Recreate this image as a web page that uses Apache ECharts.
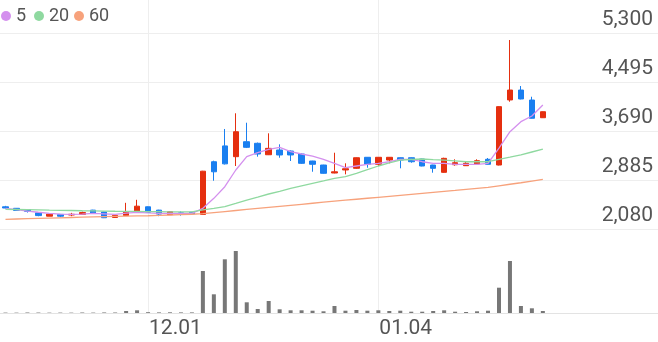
<!DOCTYPE html>
<html><head><meta charset="utf-8">
<script src="https://cdn.jsdelivr.net/npm/echarts@6/dist/echarts.min.js"></script>
<style>html,body{margin:0;padding:0;background:#fff}#c{width:658px;height:342px}</style>
</head><body><div id="c"></div>
<script>
const dates = ['11.14','11.15','11.16','11.17','11.20','11.21','11.22','11.23','11.24','11.27','11.28','11.29','11.30',
  '12.01','12.04','12.05','12.06','12.07','12.08','12.11','12.12','12.13','12.14','12.15','12.18','12.19','12.20','12.21','12.22',
  '12.26','12.27','12.28','01.02','01.03','01.04','01.05','01.08','01.09','01.10','01.11','01.12',
  '01.15','01.16','01.17','01.18','01.19','01.22','01.23','01.24','01.25'];
const futureSlots = 10;
const opens  = [2445,2420,2400,2345,2290,2320,2310,2320,2390,2360,2270,2300,2365,2445,2390,2315,2345,2355,2320,3185,3445,3268,3514,3488,3300,3378,3361,3312,3197,3131,3000,3050,3077,3258,3143,3213,3251,3251,3230,3131,3011,3136,3120,3148,3225,3131,4200,4363,4199,3908];
const closes = [2425,2385,2370,2300,2325,2290,2322,2350,2335,2265,2305,2365,2455,2355,2325,2365,2330,2330,3030,3020,3150,3678,3422,3312,3405,3296,3296,3159,3143,2995,3020,3070,3251,3143,3258,3258,3213,3185,3115,3077,3241,3169,3159,3202,3143,4090,4363,4216,3899,4007];
const lows   = [2415,2385,2350,2290,2290,2275,2290,2315,2335,2260,2265,2295,2360,2350,2290,2310,2300,2325,2315,2873,3140,3115,3410,3268,3295,3251,3197,3150,3021,2990,2995,2978,3070,3087,3115,3159,3077,3169,3110,3005,3005,3120,3115,3136,3140,3125,4171,4210,3895,3905];
const highs  = [2460,2425,2405,2355,2325,2325,2345,2365,2395,2365,2310,2510,2560,2450,2395,2370,2370,2360,3035,3202,3723,3981,3826,3500,3652,3471,3370,3323,3200,3135,3333,3159,3255,3262,3262,3262,3255,3255,3235,3135,3251,3225,3180,3225,3246,4095,5185,4429,4253,4010];
const volumes = [40000,35000,50000,45000,35000,40000,35000,50000,40000,55000,50000,200000,270000,80000,60000,70000,60000,60000,4200000,1870000,5370000,6200000,1070000,400000,1200000,370000,270000,270000,230000,170000,700000,230000,300000,230000,270000,200000,230000,130000,130000,200000,270000,130000,100000,170000,230000,2530000,5200000,700000,470000,200000];
const ma5  = [2420,2400,2375,2355,2338,2325,2321,2325,2338,2330,2321,2340,2354,2345,2338,2338,2338,2338,2420,2584,2775,3049,3268,3333,3389,3422,3350,3312,3279,3225,3159,3087,3115,3143,3159,3185,3225,3225,3185,3159,3159,3143,3143,3143,3159,3410,3678,3843,3936,4117];
const ma20 = [2403,2400,2397,2394,2390,2387,2384,2380,2378,2375,2372,2370,2368,2366,2364,2362,2360,2360,2395,2420,2446,2500,2556,2605,2655,2700,2748,2790,2831,2870,2910,2940,2995,3055,3115,3165,3213,3222,3230,3220,3213,3200,3185,3185,3185,3225,3260,3296,3345,3394];
const ma60 = [2239,2244,2249,2254,2259,2264,2269,2274,2279,2284,2288,2292,2295,2298,2304,2310,2316,2322,2333,2350,2367,2384,2401,2418,2435,2452,2469,2486,2503,2520,2537,2553,2569,2585,2601,2617,2633,2649,2665,2681,2697,2713,2730,2747,2764,2790,2815,2840,2868,2896];
const priceTicks = [2080,2885,3690,4495,5300];
const dateTickLabels = ['12.01','01.04'];

const categories = dates.concat(new Array(futureSlots).fill(''));
const candleData = opens.map((o,i)=>[o,closes[i],lows[i],highs[i]]);
const dateTickIdx = dateTickLabels.map(l=>dates.indexOf(l));
const N = categories.length;

const RED='#e52f0f', BLUE='#1a7ff0';
const FONT='Roboto';
const chart = echarts.init(document.getElementById('c'), null, {renderer:'canvas'});
const lg = (name,left)=>({left:left, top:7, padding:0, data:[name], icon:'circle', itemWidth:10, itemHeight:10,
  textStyle:{fontFamily:FONT, fontSize:18, color:'#555'}, selectedMode:false});
chart.setOption({
  animation:false,
  backgroundColor:'#fff',
  legend:[lg('5',1), lg('20',34), lg('60',74)],
  grid:[
    {left:0,right:0,top:0,bottom:29},
    {left:0,right:0,top:33,height:196},
    {left:0,right:0,top:251,bottom:29}
  ],
  xAxis:[
    {type:'value', gridIndex:0, min:-0.5, max:N-0.5,
      axisLine:{show:true,lineStyle:{color:'#e3e3e3',width:1}},
      axisTick:{show:false, customValues:dateTickIdx},
      axisLabel:{customValues:dateTickIdx, formatter:v=>categories[Math.round(v)], align:'left', padding:[0,0,0,1],
        fontFamily:FONT, fontSize:21, color:'#555', margin:5},
      splitLine:{show:true,lineStyle:{color:'#eeeeee',width:1}}},
    {type:'category', gridIndex:1, data:categories, boundaryGap:true, show:false},
    {type:'category', gridIndex:2, data:categories, boundaryGap:true, show:false}
  ],
  yAxis:[
    {type:'value', gridIndex:0, min:0, max:1, show:false},
    {type:'value', gridIndex:1, position:'right', min:priceTicks[0], max:priceTicks[priceTicks.length-1],
      axisLine:{show:false}, axisTick:{show:false, customValues:priceTicks},
      axisLabel:{customValues:priceTicks, inside:true, verticalAlign:'bottom', margin:5, padding:[0,0,3,0],
        formatter:v=>v.toLocaleString('en-US'), fontFamily:FONT, fontSize:21, color:'#555'},
      splitLine:{show:true,lineStyle:{color:'#eeeeee',width:1}}},
    {type:'value', gridIndex:2, min:0, max:'dataMax', show:false}
  ],
  series:[
    {type:'candlestick', name:'price', xAxisIndex:1, yAxisIndex:1, data:candleData, barWidth:6,
      itemStyle:{color:RED, color0:BLUE, borderColor:RED, borderColor0:BLUE, borderWidth:1}},
    {type:'line', name:'5', xAxisIndex:1, yAxisIndex:1, data:ma5, symbol:'none', lineStyle:{color:'#d490ee',width:1.3}, itemStyle:{color:'#d490ee'}},
    {type:'line', name:'20', xAxisIndex:1, yAxisIndex:1, data:ma20, symbol:'none', lineStyle:{color:'#8fd9a0',width:1.3}, itemStyle:{color:'#8fd9a0'}},
    {type:'line', name:'60', xAxisIndex:1, yAxisIndex:1, data:ma60, symbol:'none', lineStyle:{color:'#f7a27c',width:1.3}, itemStyle:{color:'#f7a27c'}},
    {type:'bar', name:'vol', xAxisIndex:2, yAxisIndex:2, data:volumes, barWidth:4, itemStyle:{color:'#777'}}
  ]
});
</script></body></html>
